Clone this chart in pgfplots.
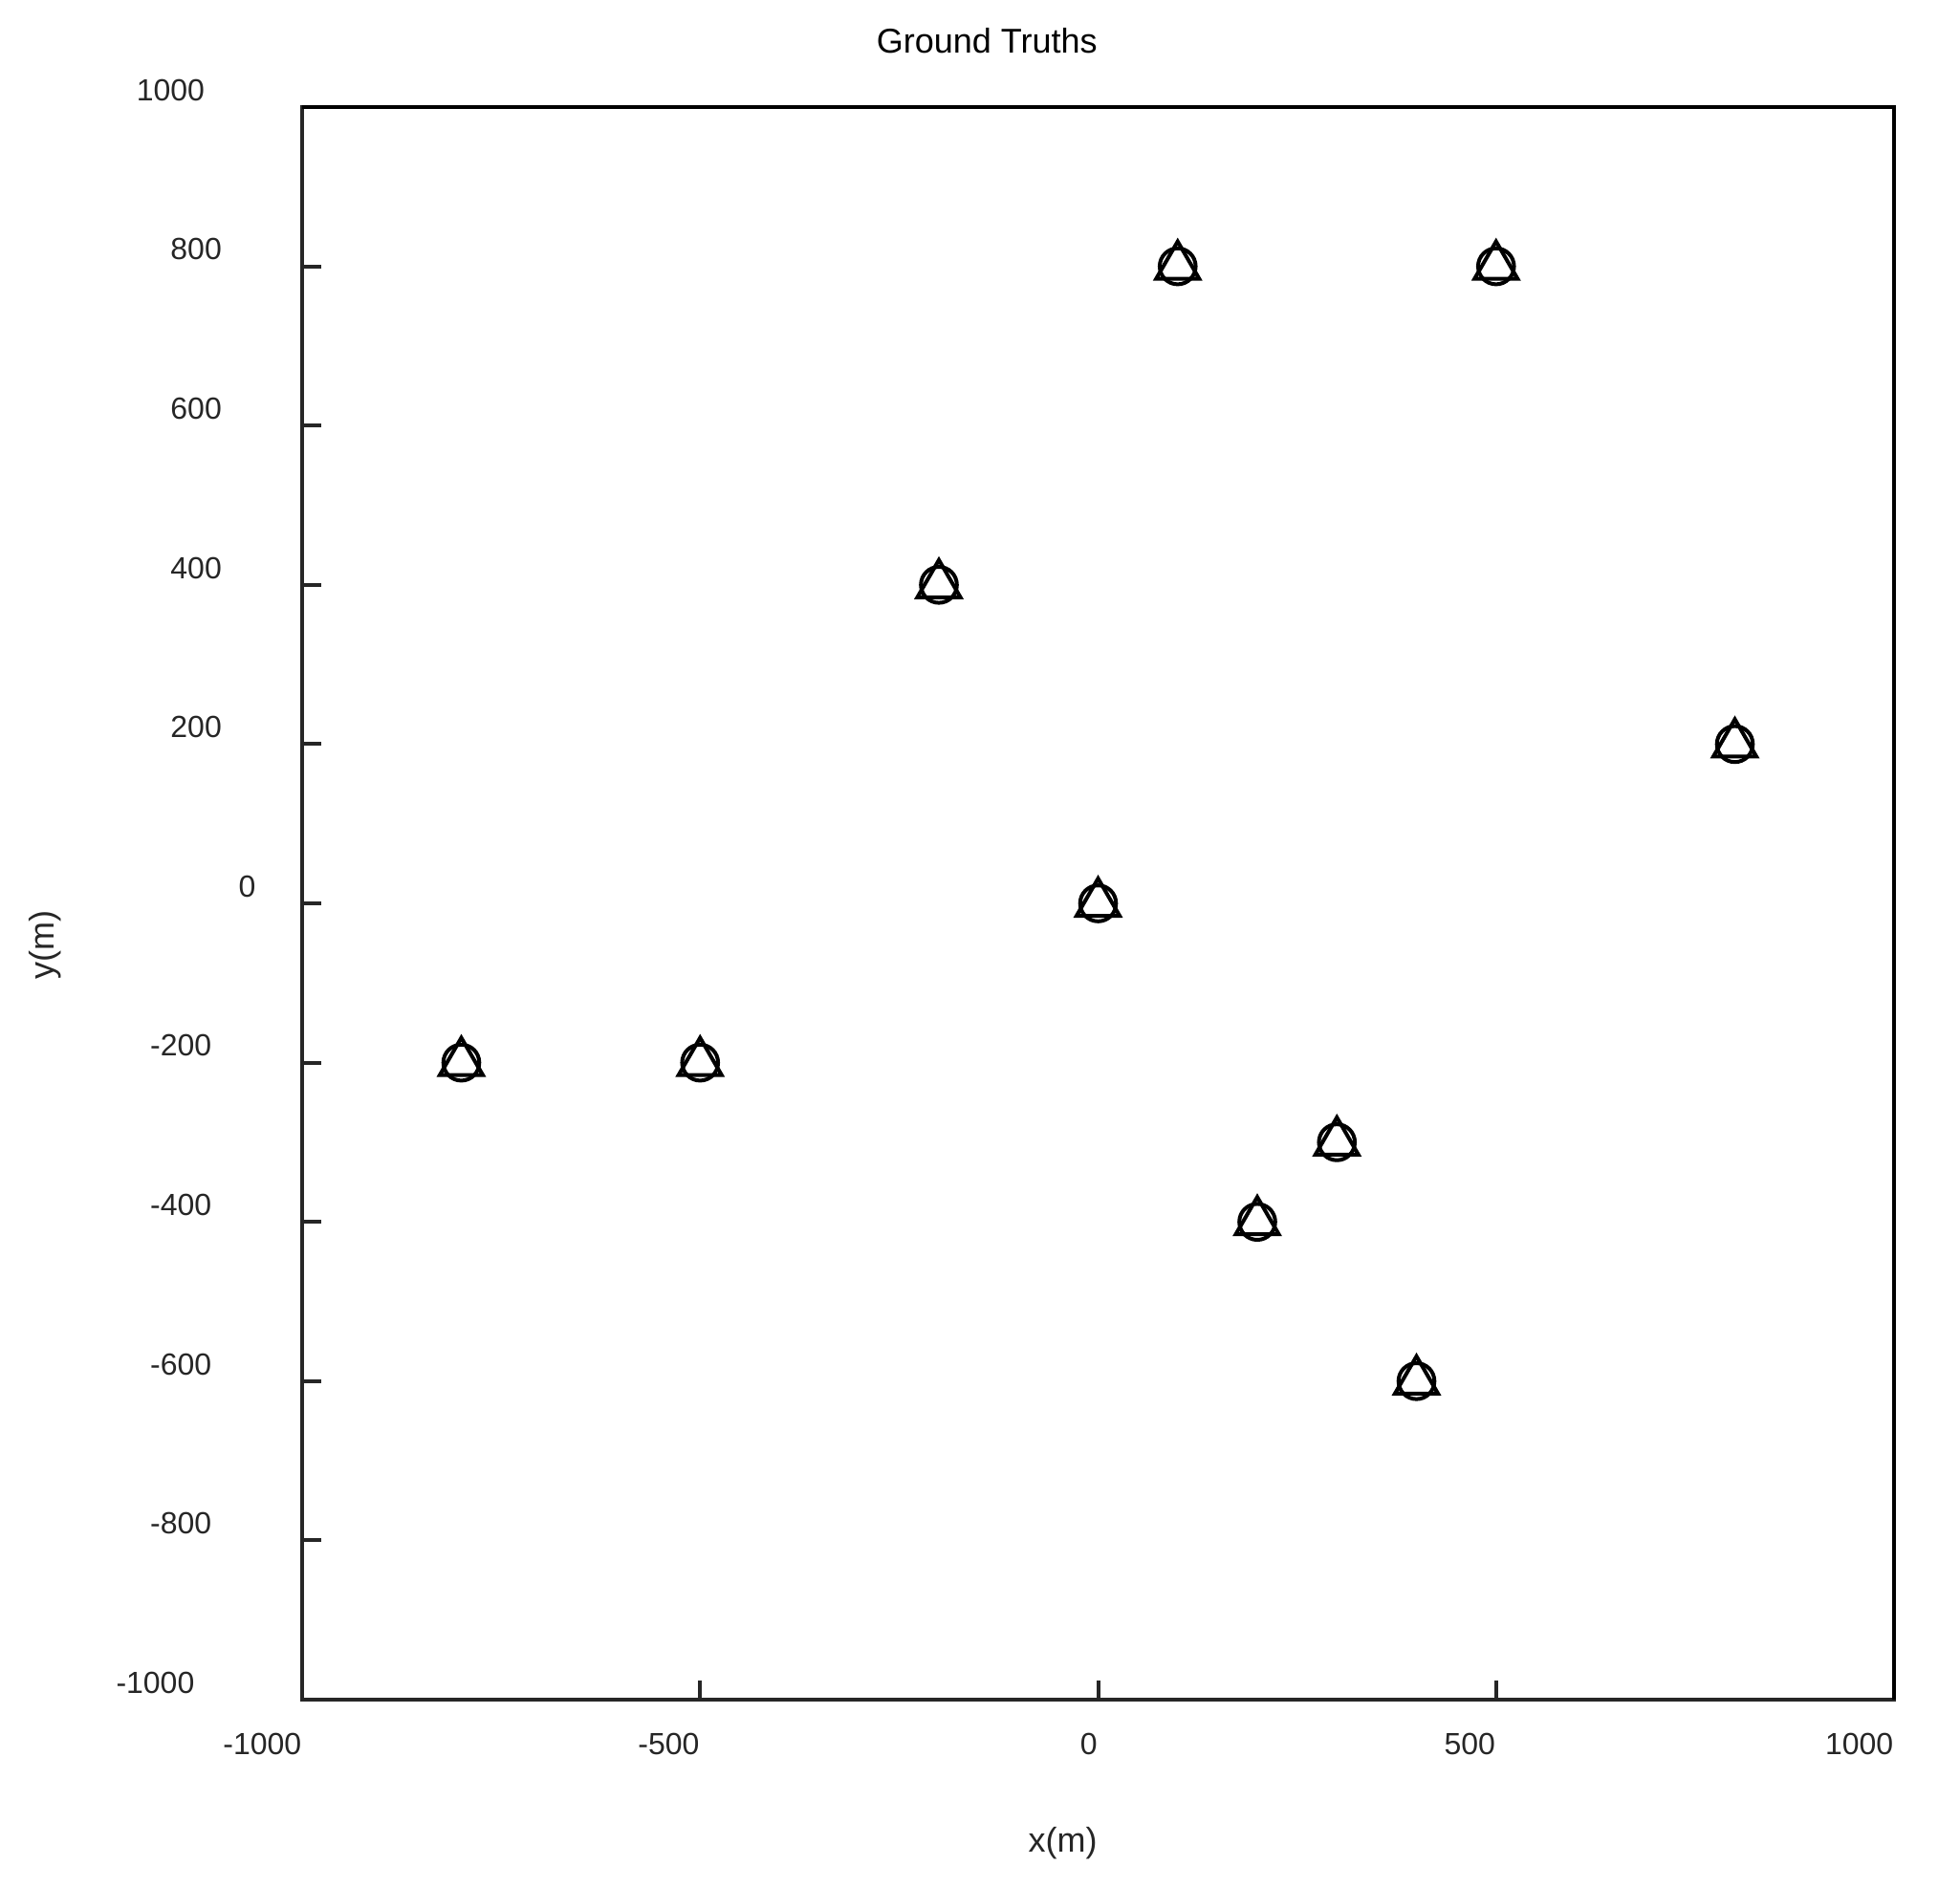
\documentclass[border=0pt]{standalone}
\usepackage{pgfplots}
\pgfplotsset{compat=1.18}
\usepackage{pgfplotstable}
\usepackage{fontspec}
\setmainfont{Liberation Sans}
\definecolor{axgray}{HTML}{262626}

% ground truth positions (m)
\pgfplotstableread{
x y
100 800
500 800
-200 400
800 200
0 0
-800 -200
-500 -200
300 -300
200 -400
400 -600
}\truths

\begin{document}
\begin{tikzpicture}
\begin{axis}[
  name=ax,
  scale only axis,
  width=416.25pt, height=416.5pt,
  xmin=-1000, xmax=1000, ymin=-1000, ymax=1000,
  xtick={-1000,-500,0,500,1000},
  xticklabels={-1000,-500,0,500,1000},
  ytick={-1000,-800,-600,-400,-200,0,200,400,600,800,1000},
  yticklabels={{-1000\phantom{-1000}},{-800\phantom{-800}},{-600\phantom{-600}},
    {-400\phantom{-400}},{-200\phantom{-200}},{0\phantom{0}},{200\phantom{200}},
    {400\phantom{400}},{600\phantom{600}},{800\phantom{800}},{1000\phantom{1000}}},
  tick pos=left,
  tick align=inside,
  major tick length=5pt,
  every tick/.style={axgray, line width=1pt},
  axis line style={axgray, line width=1pt},
  ticklabel style={font=\fontsize{8}{9}\selectfont, text=axgray, inner sep=0pt},
  xticklabel style={anchor=north east, yshift=-8.5pt},
  yticklabel style={anchor=south east, xshift=-7.5pt, yshift=1.4pt},
  clip=false,
]
\addplot[only marks, mark=o, mark size=4.7pt, mark options={line width=1pt, black}] table[x=x, y=y] {\truths};
\addplot[only marks, mark=triangle, mark size=6.5pt, mark options={line width=1pt, black}] table[x=x, y=y] {\truths};
% top and right frame in black
\draw[black, line width=1pt] (rel axis cs:0,1) -- (rel axis cs:1,1) -- (rel axis cs:1,0);
\node[anchor=base east, inner sep=0pt, font=\fontsize{9}{10}\selectfont]
  at ([yshift=14pt]rel axis cs:0.5,1) {Ground Truths};
\node[anchor=base east, inner sep=0pt, text=axgray, font=\fontsize{9}{10}\selectfont]
  at ([yshift=-39.75pt]rel axis cs:0.5,0) {x(m)};
\node[anchor=base east, rotate=90, inner sep=0pt, text=axgray, font=\fontsize{9}{10}\selectfont]
  at ([xshift=-64.75pt, yshift=-1.6pt]rel axis cs:0,0.5) {y(m)};
\end{axis}
\pgfresetboundingbox
\path[use as bounding box] ([xshift=-79pt, yshift=-48.75pt]ax.south west) rectangle ([xshift=17.25pt, yshift=28pt]ax.north east);
\end{tikzpicture}
\end{document}
